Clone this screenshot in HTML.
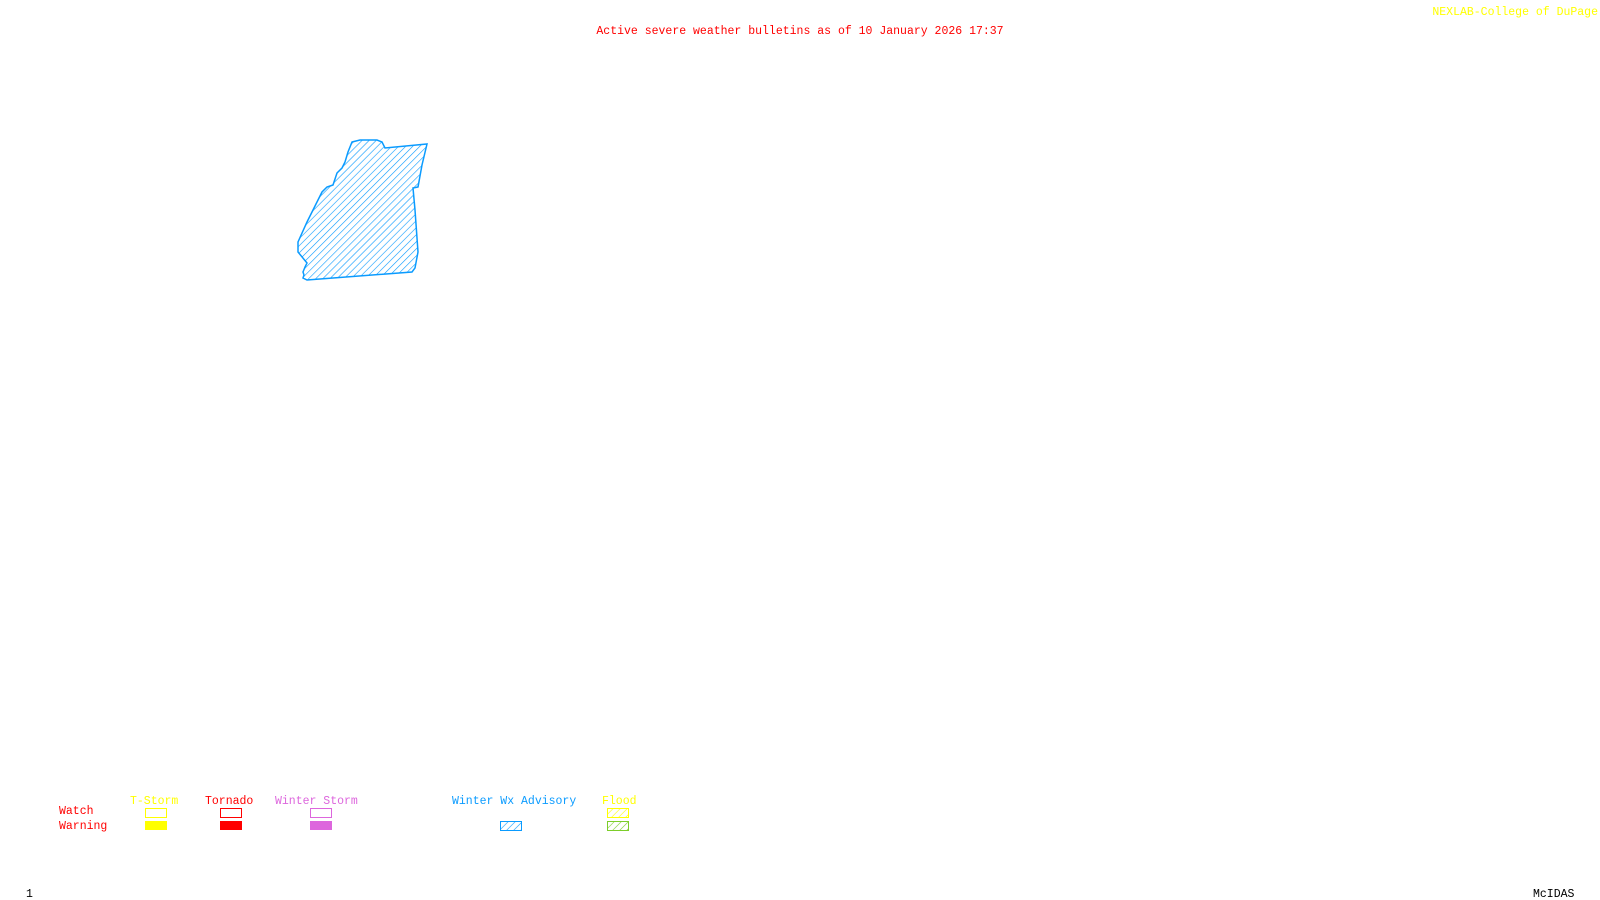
<!DOCTYPE html>
<html><head><style>
html,body{margin:0;padding:0;background:#fff;width:1600px;height:900px;overflow:hidden}
svg{position:absolute;left:0;top:0}
text{font-family:"Liberation Mono",monospace;font-size:11.5px}
</style></head><body>
<svg width="1600" height="900" viewBox="0 0 1600 900">
<defs>
<pattern id="hb" width="5" height="5" patternUnits="userSpaceOnUse" patternTransform="rotate(45)">
<line x1="0" y1="0" x2="0" y2="5" stroke="#0a9bff" stroke-width="1.2"/></pattern>
<pattern id="hg" width="5" height="5" patternUnits="userSpaceOnUse" patternTransform="rotate(45)">
<line x1="0" y1="0" x2="0" y2="5" stroke="#7ccd2a" stroke-width="1.2"/></pattern>
<pattern id="hy" width="5" height="5" patternUnits="userSpaceOnUse" patternTransform="rotate(45)">
<line x1="0" y1="0" x2="0" y2="5" stroke="#ffff00" stroke-width="1.2"/></pattern>
</defs>
<text x="800" y="34" fill="#ff0000" text-anchor="middle">Active severe weather bulletins as of 10 January 2026 17:37</text>
<text x="1598" y="15" fill="#ffff00" text-anchor="end">NEXLAB-College of DuPage</text>
<polygon points="352,142 360,140 377,140 382,142 385,148 427,144 422,165 418,187 413,188 415,210 418,252 415,268 412,272 307,280 303,278 304,275 303,272 305,267 307,263 298,252 298,242 307,222 312,212 322,192 327,187 333,185 337,173 342,168 345,162 348,152" fill="url(#hb)" stroke="#0a9bff" stroke-width="1.5"/>
<text x="130" y="804" fill="#ffff00">T-Storm</text>
<text x="205" y="804" fill="#ff0000">Tornado</text>
<text x="275" y="804" fill="#dd66dd">Winter Storm</text>
<text x="452" y="804" fill="#0a9bff">Winter Wx Advisory</text>
<text x="602" y="804" fill="#ffff00">Flood</text>
<text x="59" y="814" fill="#ff0000">Watch</text>
<text x="59" y="829" fill="#ff0000">Warning</text>
<rect x="145.5" y="808.5" width="21" height="9" fill="none" stroke="#ffff00"/>
<rect x="145" y="821" width="22" height="9" fill="#ffff00"/>
<rect x="220.5" y="808.5" width="21" height="9" fill="none" stroke="#ff0000"/>
<rect x="220" y="821" width="22" height="9" fill="#ff0000"/>
<rect x="310.5" y="808.5" width="21" height="9" fill="none" stroke="#dd66dd"/>
<rect x="310" y="821" width="22" height="9" fill="#dd66dd"/>
<rect x="500.5" y="821.5" width="21" height="9" fill="url(#hb)" stroke="#0a9bff"/>
<rect x="607.5" y="808.5" width="21" height="9" fill="url(#hy)" stroke="#ffff00"/>
<rect x="607.5" y="821.5" width="21" height="9" fill="url(#hg)" stroke="#7ccd2a"/>
<text x="26" y="897" fill="#000">1</text>
<text x="1533" y="897" fill="#000">McIDAS</text>
</svg>
</body></html>
